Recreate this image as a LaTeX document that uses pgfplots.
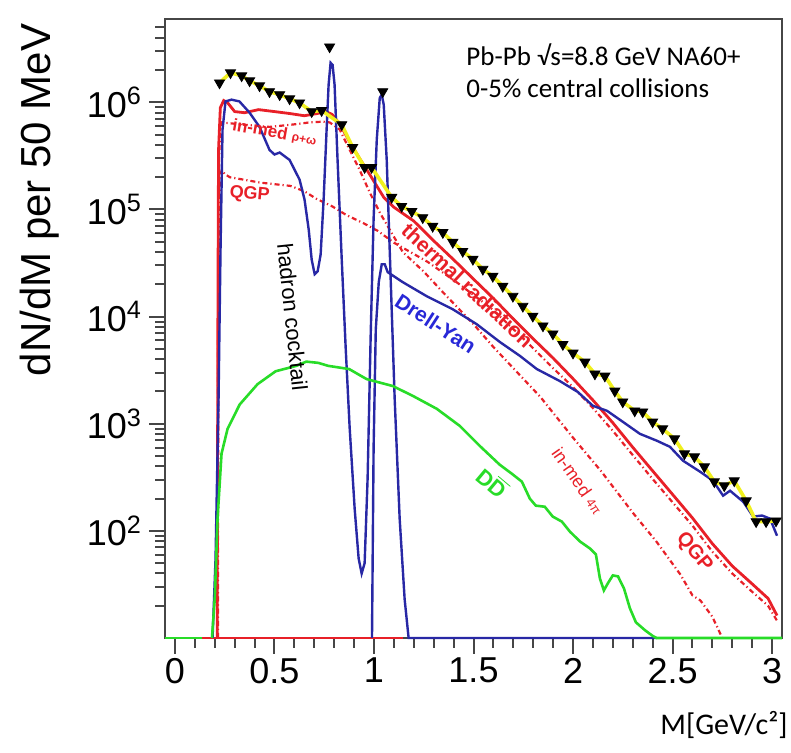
\documentclass[border=0pt]{standalone}
\usepackage{fontspec}
\setmainfont{Liberation Sans}
\newfontfamily\calib{Carlito}
\usepackage{pgfplots}
\pgfplotsset{compat=1.18}
\definecolor{rred}{RGB}{232,32,40}
\definecolor{bblue}{RGB}{40,40,165}
\definecolor{dyblue}{RGB}{40,40,215}
\definecolor{ggreen}{RGB}{40,220,40}
\definecolor{yyellow}{RGB}{240,240,30}
\definecolor{axgray}{RGB}{70,70,70}
\begin{document}
\begin{tikzpicture}
\path[use as bounding box] (0,0) rectangle (395.5pt,376.5pt);
\begin{axis}[
 at={(82.5pt,57.5pt)}, anchor=south west, scale only axis,
 width=308.5pt, height=309.5pt,
 xmin=-0.05, xmax=3.05, ymin=10, ymax=6e6, ymode=log,
 clip=false,
 axis line style={draw=axgray, line width=0.9pt},
 tick style={draw=axgray, line width=1pt},
 tick align=outside, tick pos=left,
 major tick length=8pt, minor tick length=5pt,
 xtick={0,0.5,1,1.5,2,2.5,3}, xticklabels={0,0.5,1,1.5,2,2.5,3},
 minor xtick={0.1,0.2,0.3,0.4,0.6,0.7,0.8,0.9,1.1,1.2,1.3,1.4,1.6,1.7,1.8,1.9,2.1,2.2,2.3,2.4,2.6,2.7,2.8,2.9},
 ytick={100,1000,10000,100000,1000000},
 yticklabels={10\textsuperscript{2},10\textsuperscript{3},10\textsuperscript{4},10\textsuperscript{5},10\textsuperscript{6}},
 minor ytick={20,30,40,50,60,70,80,90,200,300,400,500,600,700,800,900,2000,3000,4000,5000,6000,7000,8000,9000,20000,30000,40000,50000,60000,70000,80000,90000,200000,300000,400000,500000,600000,700000,800000,900000,2000000,3000000,4000000,5000000},
 ticklabel style={font=\fontsize{18}{20}\selectfont},
 xticklabel style={yshift=1.5pt},
]
% tick marks (drawn explicitly as well)
\pgfplotsinvokeforeach{0,0.5,1,1.5,2,2.5,3}{\draw[axgray, line width=1pt] (axis cs:#1,10) -- ++(0pt,-8pt);}
\pgfplotsinvokeforeach{0.1,0.2,0.3,0.4,0.6,0.7,0.8,0.9,1.1,1.2,1.3,1.4,1.6,1.7,1.8,1.9,2.1,2.2,2.3,2.4,2.6,2.7,2.8,2.9}{\draw[axgray, line width=1pt] (axis cs:#1,10) -- ++(0pt,-5pt);}
\pgfplotsinvokeforeach{100,1000,10000,100000,1000000}{\draw[axgray, line width=1pt] (axis cs:-0.05,#1) -- ++(-8pt,0pt);}
\pgfplotsinvokeforeach{20,30,40,50,60,70,80,90,200,300,400,500,600,700,800,900,2000,3000,4000,5000,6000,7000,8000,9000,20000,30000,40000,50000,60000,70000,80000,90000,200000,300000,400000,500000,600000,700000,800000,900000,2000000,3000000,4000000,5000000}{\draw[axgray, line width=1pt] (axis cs:-0.05,#1) -- ++(-5pt,0pt);}
% in-medium rho+omega / 4pi
\addplot[rred, line width=1.1pt, dash pattern=on 2.5pt off 1.5pt on 0.6pt off 1.5pt] coordinates {
(0.216,10)(0.219,3.2e4)(0.222,3.2e5)(0.229,6.0e5)(0.236,6.5e5)(0.34,6.2e5)(0.475,5.9e5)(0.59,6.2e5)(0.677,6.5e5)(0.742,6.6e5)(0.777,6.5e5)(0.827,5.6e5)(0.878,3.6e5)(0.928,2.34e5)(0.978,1.45e5)(1.03,9.3e4)(1.145,4.0e4)(1.25,2.63e4)(1.35,1.66e4)(1.5,8.5e3)(1.6,5.2e3)(1.7,3.3e3)(1.836,1.78e3)(2.0,741)(2.14,363)(2.30,148)(2.42,79)(2.54,39)(2.60,25)(2.64,22.4)(2.70,15.8)(2.75,10)};
% QGP
\addplot[rred, line width=1.1pt, dash pattern=on 2.5pt off 1.5pt on 0.6pt off 1.5pt] coordinates {
(0.214,10)(0.217,1e4)(0.222,1e5)(0.229,2.14e5)(0.236,2.34e5)(0.25,2.14e5)(0.276,2.0e5)(0.43,1.78e5)(0.58,1.66e5)(0.65,1.48e5)(0.71,1.26e5)(0.79,1.07e5)(0.86,8.9e4)(0.95,7.4e4)(1.02,6.3e4)(1.1,4.9e4)(1.27,3.24e4)(1.43,2.0e4)(1.6,1.15e4)(1.77,5.75e3)(1.9,3.3e3)(2.0,2.2e3)(2.1,1.4e3)(2.2,860)(2.3,510)(2.4,305)(2.5,185)(2.6,112)(2.7,64)(2.8,40)(2.9,27)(2.98,20)(3.025,14.5)};
% thermal radiation (sum)
\addplot[rred, line width=1.4pt] coordinates {
(0.212,10)(0.216,1.45e4)(0.219,3.6e5)(0.228,8.9e5)(0.245,1.04e6)(0.265,9.9e5)(0.30,8.2e5)(0.35,8.0e5)(0.42,8.55e5)(0.50,8.2e5)(0.58,7.85e5)(0.65,7.5e5)(0.72,7.9e5)(0.76,8.2e5)(0.79,7.7e5)(0.83,6.2e5)(0.88,4.2e5)(0.93,2.95e5)(0.98,2.1e5)(1.05,1.29e5)(1.1,1.05e5)(1.2,7.8e4)(1.3,5.1e4)(1.4,3.4e4)(1.5,2.24e4)(1.6,1.48e4)(1.7,9.5e3)(1.8,6.2e3)(1.9,4.1e3)(2.0,2.63e3)(2.1,1.66e3)(2.2,1.02e3)(2.3,603)(2.4,363)(2.5,219)(2.6,132)(2.7,76)(2.8,47)(2.9,32)(2.98,23.4)(3.025,16.2)};
% green baseline left
\addplot[ggreen, line width=1.3pt] coordinates {(-0.05,10)(0.138,10)};
% red baseline (zero region)
\addplot[rred, line width=1.3pt] coordinates {(0.138,10)(1.144,10)};
% hadron cocktail
\addplot[bblue, line width=1.2pt] coordinates {
(0.189,10)(0.204,55)(0.219,1.7e3)(0.229,4.26e4)(0.239,5.57e5)(0.254,1.02e6)(0.284,1.06e6)(0.324,1.02e6)(0.375,8.0e5)(0.425,5.9e5)(0.475,3.6e5)(0.50,3.26e5)(0.526,3.4e5)(0.576,2.9e5)(0.626,1.9e5)(0.651,1.24e5)(0.672,6.5e4)(0.687,3.4e4)(0.702,2.49e4)(0.717,2.65e4)(0.732,3.8e4)(0.747,1.24e5)(0.762,5.6e5)(0.772,1.46e6)(0.782,2.34e6)(0.792,2.24e6)(0.802,1.46e6)(0.817,2.9e5)(0.838,3.4e4)(0.858,5.0e3)(0.878,9.0e2)(0.903,1.6e2)(0.923,55)(0.938,40)(0.953,50)(0.968,3.1e2)(0.983,6.2e3)(0.998,8.1e4)(1.014,4.5e5)(1.029,1.1e6)(1.039,1.18e6)(1.049,9.5e5)(1.064,2.9e5)(1.084,2.2e4)(1.104,1.7e3)(1.129,130)(1.154,23)(1.174,10)(2.42,10)};
% Drell-Yan
\addplot[bblue, line width=1.2pt] coordinates {
(0.99,10)(0.998,584)(1.009,7.6e3)(1.024,2.1e4)(1.039,3.08e4)(1.054,3.08e4)(1.069,2.6e4)(1.144,2.1e4)(1.265,1.55e4)(1.396,1.17e4)(1.516,8.5e3)(1.632,5.8e3)(1.733,4.3e3)(1.818,3.24e3)(1.934,2.5e3)(2.024,1.98e3)(2.100,1.47e3)(2.171,1.32e3)(2.251,1.04e3)(2.336,805)(2.422,693)(2.487,609)(2.553,451)(2.638,357)(2.703,294)(2.754,213)(2.789,237)(2.855,187)(2.905,136)(2.950,139)(2.990,130)(3.025,90)};
% open charm DDbar
\addplot[ggreen, line width=1.3pt] coordinates {
(0.186,10)(0.20,23.4)(0.214,129)(0.234,525)(0.264,891)(0.325,1.51e3)(0.415,2.34e3)(0.506,3.09e3)(0.61,3.47e3)(0.66,3.8e3)(0.72,3.7e3)(0.77,3.47e3)(0.875,3.24e3)(0.963,2.61e3)(1.094,2.25e3)(1.195,1.82e3)(1.315,1.38e3)(1.431,955)(1.531,622)(1.632,414)(1.693,341)(1.743,288)(1.783,200)(1.813,172)(1.858,168)(1.898,136)(1.944,122)(1.984,98.6)(2.035,79.6)(2.085,68.5)(2.115,60.3)(2.135,36)(2.155,27.8)(2.175,32.4)(2.20,38.4)(2.226,37.6)(2.256,29)(2.286,18.9)(2.316,14)(2.362,11.8)(2.402,10.4)(2.42,10)(3.05,10)};
% systematic band (yellow) through the data
\addplot[yyellow, line width=1.8pt] coordinates {
(0.224,1.52e6)(0.279,1.89e6)(0.335,1.77e6)(0.375,1.59e6)(0.425,1.43e6)(0.475,1.26e6)(0.526,1.18e6)(0.576,1.08e6)(0.626,9.9e5)(0.687,8.2e5)(0.737,8.4e5)(0.838,6.2e5)(0.893,3.8e5)(0.953,2.47e5)(0.988,2.47e5)(1.089,1.30e5)(1.139,1.07e5)(1.190,9.6e4)(1.245,8.4e4)(1.295,6.97e4)(1.346,6.1e4)(1.396,4.94e4)(1.446,4.07e4)(1.497,3.43e4)(1.547,2.77e4)(1.597,2.38e4)(1.647,1.92e4)(1.698,1.55e4)(1.748,1.25e4)(1.798,1.01e4)(1.849,8.2e3)(1.899,6.9e3)(1.949,5.5e3)(2.0,4.57e3)(2.06,3.77e3)(2.11,2.92e3)(2.16,2.79e3)(2.21,2.02e3)(2.25,1.6e3)(2.31,1.32e3)(2.35,1.29e3)(2.40,1.04e3)(2.45,897)(2.51,724)(2.56,525)(2.61,492)(2.66,397)(2.71,288)(2.76,264)(2.81,294)(2.87,191)(2.92,122)(2.97,122)(3.02,124)};
% data points
\addplot[only marks, mark=triangle*, mark size=2.9pt, mark options={rotate=180, fill=black, draw=black}] coordinates {
(0.224,1.52e6)(0.279,1.89e6)(0.335,1.77e6)(0.375,1.59e6)(0.425,1.43e6)(0.475,1.26e6)(0.526,1.18e6)(0.576,1.08e6)(0.626,9.9e5)(0.687,8.2e5)(0.737,8.4e5)(0.777,3.3e6)(0.838,6.2e5)(0.893,3.8e5)(0.953,2.47e5)(0.988,2.47e5)(1.044,1.26e6)(1.089,1.30e5)(1.139,1.07e5)(1.190,9.6e4)(1.245,8.4e4)(1.295,6.97e4)(1.346,6.1e4)(1.396,4.94e4)(1.446,4.07e4)(1.497,3.43e4)(1.547,2.77e4)(1.597,2.38e4)(1.647,1.92e4)(1.698,1.55e4)(1.748,1.25e4)(1.798,1.01e4)(1.849,8.2e3)(1.899,6.9e3)(1.949,5.5e3)(2.0,4.57e3)(2.06,3.77e3)(2.11,2.92e3)(2.16,2.79e3)(2.21,2.02e3)(2.25,1.6e3)(2.31,1.32e3)(2.35,1.29e3)(2.40,1.04e3)(2.45,897)(2.51,724)(2.56,525)(2.61,492)(2.66,397)(2.71,288)(2.76,264)(2.81,294)(2.87,191)(2.92,122)(2.97,122)(3.02,124)};
% labels
\node[rotate=-10, text=rred, font=\bfseries\fontsize{8.5}{9}\selectfont] at (axis cs:0.5,5.2e5) {in-med {\fontsize{6}{7}\selectfont ρ+ω}};
\node[rotate=-5, text=rred, font=\bfseries\fontsize{9}{10}\selectfont] at (axis cs:0.375,1.38e5) {QGP};
\node[rotate=-84, font=\fontsize{11}{12}\selectfont] at (axis cs:0.591,9.9e3) {hadron cocktail};
\node[rotate=-43, text=rred, font=\bfseries\fontsize{10.5}{12}\selectfont] at (axis cs:1.47,1.95e4) {thermal radiation};
\node[rotate=-33, text=dyblue, font=\bfseries\fontsize{10.5}{12}\selectfont] at (axis cs:1.31,8.6e3) {Drell-Yan};
\node[rotate=-40, text=ggreen, font=\bfseries\fontsize{11}{12}\selectfont] at (axis cs:1.597,282) {D$\overline{\mbox{D}}$};
\node[rotate=-55, text=rred, font=\fontsize{9}{10}\selectfont] at (axis cs:2.025,294) {in-med {\fontsize{6.5}{7}\selectfont 4π}};
\node[rotate=-50, text=rred, font=\bfseries\fontsize{10}{11}\selectfont] at (axis cs:2.608,62.8) {QGP};
\end{axis}
\node[rotate=90, font=\fontsize{21}{24}\selectfont] at (20pt,276.5pt) {dN/dM per 50 MeV};
\node[anchor=west, inner sep=0pt, font=\calib\fontsize{13.5}{16}\selectfont] at (233pt,349pt) {Pb-Pb √s=8.8 GeV NA60+};
\node[anchor=west, inner sep=0pt, font=\calib\fontsize{13.5}{16}\selectfont] at (233pt,332.5pt) {0-5\% central collisions};
\node[anchor=east, inner sep=0pt, font=\calib\fontsize{15}{18}\selectfont] at (394pt,14pt) {M[GeV/c²]};
\end{tikzpicture}
\end{document}
